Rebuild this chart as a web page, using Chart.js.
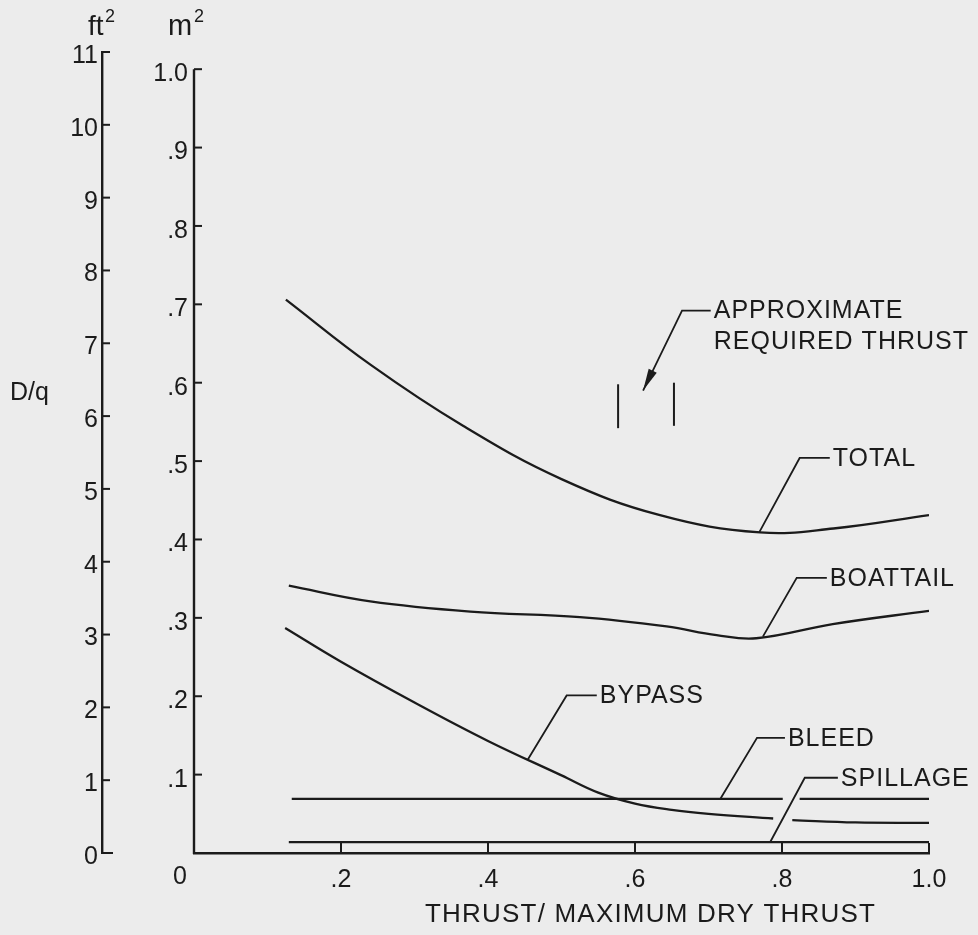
<!DOCTYPE html>
<html>
<head>
<meta charset="utf-8">
<title>D/q vs thrust</title>
<script src="https://cdn.jsdelivr.net/npm/chart.js@4.4.1/dist/chart.umd.min.js"></script>
<style>
  html, body { margin: 0; padding: 0; background: #ececec; }
  #wrap { width: 978px; height: 935px; }
</style>
</head>
<body>
<div id="wrap"><canvas id="dragChart" width="978" height="935"></canvas></div>
<script>
// Thrust / maximum dry thrust (x) against D/q in m^2 (y), one pair of arrays per component
const totalX = [0.125, 0.24, 0.366, 0.5, 0.634, 0.77, 0.87, 1.0];
const totalY = [0.706, 0.623, 0.545, 0.477, 0.431, 0.409, 0.414, 0.431];

const boattailX = [0.129, 0.24, 0.376, 0.525, 0.643, 0.711, 0.765, 0.869, 1.0];
const boattailY = [0.341, 0.321, 0.308, 0.301, 0.289, 0.278, 0.274, 0.292, 0.309];

// null leaves a break where the spillage leader crosses
const bypassX = [0.124, 0.2, 0.3, 0.4, 0.5, 0.55, 0.6, 0.65, 0.7, 0.788, 0.80, 0.814, 0.9, 1.0];
const bypassY = [0.287, 0.244, 0.192, 0.143, 0.099, 0.077, 0.063, 0.055, 0.050, 0.044, null, 0.042, 0.039, 0.0385];

const bleedX = [0.133, 0.801, 0.812, 0.824, 1.0];
const bleedY = [0.069, 0.069, null, 0.069, 0.069];

const spillageX = [0.129, 1.0];
const spillageY = [0.014, 0.014];

// bracket for the approximate required thrust
const reqLowX = [0.577, 0.577];
const reqLowY = [0.542, 0.598];
const reqHighX = [0.653, 0.653];
const reqHighY = [0.545, 0.600];

// tick labels
const thrustTicks = ['0', '.2', '.4', '.6', '.8', '1.0'];
const m2Ticks = ['', '.1', '.2', '.3', '.4', '.5', '.6', '.7', '.8', '.9', '1.0'];
const ft2Ticks = ['0', '1', '2', '3', '4', '5', '6', '7', '8', '9', '10', '11'];

const FT2_PER_M2 = 10.764;
const ink = '#1b1b1b';
const FONT = '"Liberation Sans", Arial, sans-serif';

const pts = (xs, ys) => xs.map((x, i) => ({ x: x, y: ys[i] }));

function curve(label, xs, ys, width) {
    return {
        label: label,
        data: pts(xs, ys),
        borderColor: ink,
        borderWidth: width || 2.3,
        pointRadius: 0,
        fill: false,
        spanGaps: false,
        tension: 0.4,
        yAxisID: 'y'
    };
}

// leader lines: from a point on the curve, up to a knee, then across to the label
const callouts = [
    { text: ['APPROXIMATE', 'REQUIRED THRUST'], from: [0.611, 0.590], knee: [0.664, 0.692], end: [0.703, 0.692], arrow: true },
    { text: ['TOTAL'], from: [0.769, 0.409], knee: [0.824, 0.504], end: [0.865, 0.504] },
    { text: ['BOATTAIL'], from: [0.774, 0.276], knee: [0.820, 0.351], end: [0.861, 0.351] },
    { text: ['BYPASS'], from: [0.454, 0.119], knee: [0.507, 0.201], end: [0.548, 0.201] },
    { text: ['BLEED'], from: [0.716, 0.069], knee: [0.766, 0.147], end: [0.804, 0.147] },
    { text: ['SPILLAGE'], from: [0.784, 0.014], knee: [0.831, 0.096], end: [0.876, 0.096] }
];

function seg(ctx, x1, y1, x2, y2) {
    ctx.beginPath();
    ctx.moveTo(x1, y1);
    ctx.lineTo(x2, y2);
    ctx.stroke();
}

const figureMarks = {
    id: 'figureMarks',
    afterDraw(chart) {
        const { ctx, chartArea: a, scales } = chart;
        const sx = scales.x, sy = scales.y, sf = scales.y2;
        ctx.save();
        ctx.strokeStyle = ink;
        ctx.fillStyle = ink;

        // m^2 axis line, stops at 1.0
        ctx.lineWidth = 2.4;
        seg(ctx, a.left, sy.getPixelForValue(0) + 1, a.left, sy.getPixelForValue(1.0));

        // inward ticks
        ctx.lineWidth = 2;
        sy.ticks.forEach(t => {
            if (t.value === 0) return;
            const py = sy.getPixelForValue(t.value);
            seg(ctx, a.left, py, a.left + 8, py);
        });
        const fx = sf.right;
        sf.ticks.forEach(t => {
            const py = sf.getPixelForValue(t.value);
            seg(ctx, fx, py, fx + (t.value === 0 ? 11 : 8), py);
        });
        sx.ticks.forEach(t => {
            if (t.value === 0) return;
            const px = sx.getPixelForValue(t.value);
            seg(ctx, px, a.bottom, px, a.bottom - 10);
        });

        ctx.textBaseline = 'middle';
        ctx.textAlign = 'center';
        ctx.font = '25px ' + FONT;
        // origin label sits left of the corner
        ctx.fillText(thrustTicks[0], a.left - 14, a.bottom + 24);

        // unit headings
        ctx.textAlign = 'left';
        ctx.textBaseline = 'alphabetic';
        ctx.font = '28px ' + FONT;
        ctx.fillText('ft', fx - 14, 35);
        ctx.font = '29px ' + FONT;
        ctx.fillText('m', a.left - 26, 35);
        ctx.font = '18px ' + FONT;
        ctx.fillText('2', fx + 3, 22);
        ctx.fillText('2', a.left + 0, 22);

        // quantity
        ctx.font = '25px ' + FONT;
        ctx.fillText('D/q', 10, 400);

        // x title
        ctx.font = '26px ' + FONT;
        ctx.letterSpacing = '1.2px';
        ctx.textBaseline = 'middle';
        ctx.fillText('THRUST/ MAXIMUM DRY THRUST', 425, 915);

        // callouts
        ctx.letterSpacing = '1px';
        ctx.lineWidth = 1.8;
        callouts.forEach(c => {
            const p0 = [sx.getPixelForValue(c.from[0]), sy.getPixelForValue(c.from[1])];
            const p1 = [sx.getPixelForValue(c.knee[0]), sy.getPixelForValue(c.knee[1])];
            const p2 = [sx.getPixelForValue(c.end[0]), sy.getPixelForValue(c.end[1])];
            ctx.beginPath();
            ctx.moveTo(p0[0], p0[1]);
            ctx.lineTo(p1[0], p1[1]);
            ctx.lineTo(p2[0], p2[1]);
            ctx.stroke();
            if (c.arrow) {
                const ang = Math.atan2(p0[1] - p1[1], p0[0] - p1[0]);
                const len = 22, half = 4.5;
                const bx = p0[0] - Math.cos(ang) * len, by = p0[1] - Math.sin(ang) * len;
                ctx.beginPath();
                ctx.moveTo(p0[0], p0[1]);
                ctx.lineTo(bx + Math.sin(ang) * half, by - Math.cos(ang) * half);
                ctx.lineTo(bx - Math.sin(ang) * half, by + Math.cos(ang) * half);
                ctx.closePath();
                ctx.fill();
            }
            ctx.font = '25px ' + FONT;
            c.text.forEach((line, i) => {
                ctx.fillText(line, p2[0] + 3, p2[1] + 1 + i * 31);
            });
        });
        ctx.restore();
    }
};

const ctx = document.getElementById('dragChart').getContext('2d');
const chart = new Chart(ctx, {
    type: 'line',
    data: {
        datasets: [
            curve('TOTAL', totalX, totalY),
            curve('BOATTAIL', boattailX, boattailY),
            curve('BYPASS', bypassX, bypassY),
            curve('BLEED', bleedX, bleedY),
            curve('SPILLAGE', spillageX, spillageY),
            curve('req-low', reqLowX, reqLowY, 2),
            curve('req-high', reqHighX, reqHighY, 2)
        ]
    },
    options: {
        responsive: false,
        devicePixelRatio: 1,
        animation: false,
        layout: { padding: { top: 52, right: 49, left: 0, bottom: 0 } },
        plugins: {
            legend: { display: false },
            tooltip: { enabled: false }
        },
        scales: {
            x: {
                type: 'linear',
                min: 0,
                max: 1.0,
                afterFit: s => { s.height = 82; },
                grid: { display: false, drawTicks: false },
                border: { display: true, color: ink, width: 2.4 },
                ticks: {
                    stepSize: 0.2,
                    includeBounds: false,
                    padding: 12,
                    color: ink,
                    font: { family: FONT, size: 25 },
                    maxRotation: 0,
                    autoSkip: false,
                    callback: (v, i) => (i === 0 ? '' : thrustTicks[i])
                }
            },
            y: {
                position: 'left',
                weight: 0,
                min: 0,
                max: 11 / FT2_PER_M2,
                afterFit: s => { s.width = 92; },
                grid: { display: false, drawTicks: false },
                border: { display: false },
                ticks: {
                    stepSize: 0.1,
                    includeBounds: false,
                    padding: 6,
                    labelOffset: 5,
                    color: ink,
                    font: { family: FONT, size: 25 },
                    autoSkip: false,
                    callback: (v, i) => m2Ticks[i]
                }
            },
            y2: {
                position: 'left',
                weight: 1,
                min: 0,
                max: 11,
                afterFit: s => { s.width = 102; },
                grid: { display: false, drawTicks: false },
                border: { display: true, color: ink, width: 2.4 },
                ticks: {
                    stepSize: 1,
                    padding: 4,
                    labelOffset: 4,
                    color: ink,
                    font: { family: FONT, size: 25 },
                    autoSkip: false,
                    callback: (v, i) => ft2Ticks[i]
                }
            }
        }
    },
    plugins: [figureMarks]
});
</script>
</body>
</html>
